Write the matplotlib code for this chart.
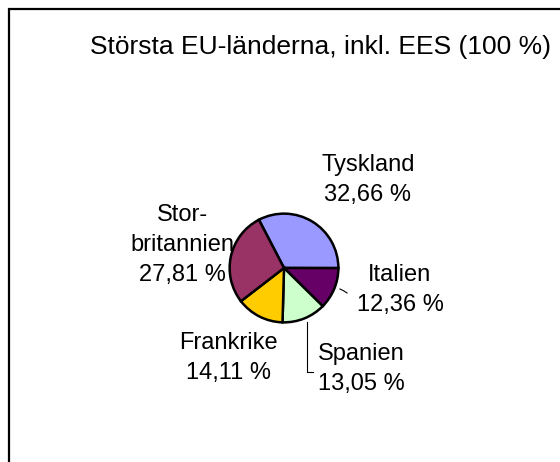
import matplotlib.pyplot as plt
from matplotlib.patches import Rectangle
from matplotlib.lines import Line2D

plt.rcParams['font.family'] = ['Liberation Sans', 'DejaVu Sans']

# data
countries = ["Tyskland", "Italien", "Spanien", "Frankrike", "Storbritannien"]
shares = [32.66, 12.36, 13.05, 14.11, 27.81]
label_texts = ["Tyskland", "Italien", "Spanien", "Frankrike", "Stor-\nbritannien"]
colors = ["#9999FF", "#660066", "#CCFFCC", "#FFCC00", "#993366"]
title = "Största EU-länderna, inkl. EES (100 %)"

W, H = 560, 462
fig = plt.figure(figsize=(W / 100, H / 100), dpi=100)


def fx(x):
    return x / W


def fy(y):
    return 1 - y / H


# outer frame, runs off the right and bottom edge
fig.patches.append(Rectangle((fx(9), fy(470)), fx(600), 470 / H - 9 / H,
                             transform=fig.transFigure, fill=False,
                             edgecolor="black", linewidth=1.6))

# pie axes: centre (284, 268), radius 56 px
cx, cy, r = 284, 268, 56
ax = fig.add_axes([fx(cx - r), fy(cy + r), 2 * r / W, 2 * r / H])
ax.pie(shares, colors=colors, startangle=117.5, counterclock=False,
       wedgeprops=dict(edgecolor="black", linewidth=1.8))
ax.set_xlim(-1.03, 1.03)
ax.set_ylim(-1.03, 1.03)
ax.set_aspect("equal")
ax.axis("off")

fig.text(fx(320), fy(47), title, ha="center", va="center", fontsize=19)

# label block centres in pixels
label_pos = [(368, 180), (400, 290), (361, 369), (228, 358), (182, 245)]
for name, val, (x, y) in zip(label_texts, shares, label_pos):
    s = name + "\n" + f"{val:.2f}".replace(".", ",") + " %"
    fig.text(fx(x), fy(y), s, ha="center", va="center", fontsize=17,
             linespacing=1.45)

# leader lines
fig.lines.append(Line2D([fx(340), fx(344), fx(347)], [fy(289), fy(291), fy(293)],
                        transform=fig.transFigure, color="black", linewidth=0.8))
fig.lines.append(Line2D([fx(307), fx(307), fx(313)], [fy(322), fy(372), fy(372)],
                        transform=fig.transFigure, color="black", linewidth=0.8))

fig.savefig("out.png", dpi=100)
